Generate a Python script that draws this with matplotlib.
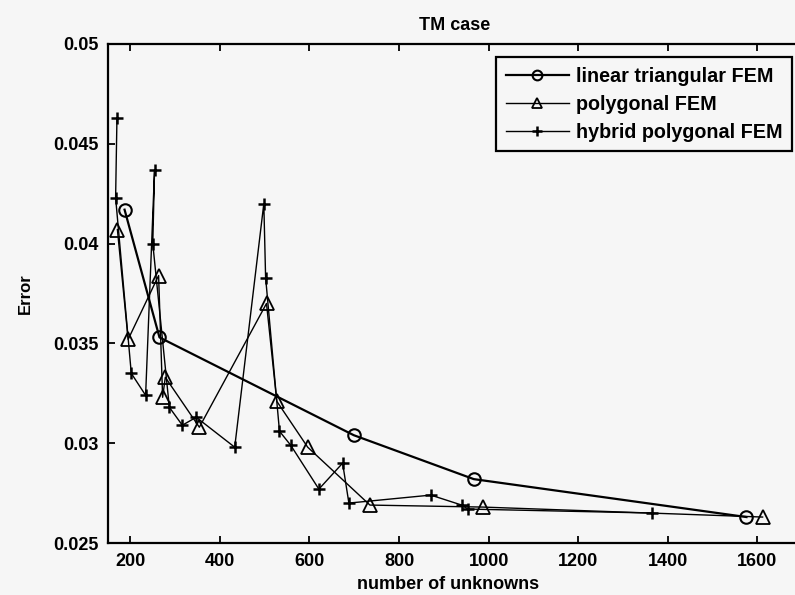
import matplotlib
matplotlib.use("Agg")
import matplotlib.pyplot as plt
import numpy as np

plt.rcParams['font.family'] = ['Liberation Sans', 'DejaVu Sans']
plt.rcParams['font.weight'] = 'bold'

# error vs. number of unknowns for the three discretisations
linear_n = [187, 265, 699, 967, 1576]
linear_err = [0.0417, 0.0353, 0.0304, 0.0282, 0.0263]

poly_n = [171, 195, 263, 272, 278, 354, 504, 527, 596, 735, 987, 1612]
poly_err = [0.0407, 0.0352, 0.0384, 0.0323, 0.0333, 0.0308, 0.0370,
            0.0321, 0.0298, 0.0269, 0.0268, 0.0263]

hybrid_n = [170, 167, 202, 234, 254, 250, 287, 316, 347, 433, 498, 502,
            533, 558, 621, 674, 688, 871, 940, 954, 1366]
hybrid_err = [0.0463, 0.0423, 0.0335, 0.0324, 0.0437, 0.0400, 0.0318,
              0.0309, 0.0313, 0.0298, 0.0420, 0.0383, 0.0306, 0.0299,
              0.0277, 0.0290, 0.0270, 0.0274, 0.0269, 0.0267, 0.0265]

xticks = [200, 400, 600, 800, 1000, 1200, 1400, 1600]
yticks = [0.025, 0.03, 0.035, 0.04, 0.045, 0.05]
ytick_labels = ['0.025', '0.03', '0.035', '0.04', '0.045', '0.05']

bg = '#f6f6f6'
fig = plt.figure(figsize=(7.95, 5.95), dpi=100, facecolor=bg)
ax = fig.add_axes([108 / 795, 52 / 595, 694 / 795, 499 / 595], facecolor=bg)

ax.plot(linear_n, linear_err, '-o', color='black', linewidth=1.6,
        markersize=9, markerfacecolor='none', markeredgewidth=1.5,
        label='linear triangular FEM')
ax.plot(poly_n, poly_err, '-^', color='black', linewidth=1.0,
        markersize=10, markerfacecolor='none', markeredgewidth=1.3,
        label='polygonal FEM')
ax.plot(hybrid_n, hybrid_err, '-+', color='black',
        linewidth=1.0, markersize=8, markeredgewidth=1.8,
        label='hybrid polygonal FEM')

ax.set_xlim(150, 1700)
ax.set_ylim(0.025, 0.05)
ax.set_xticks(xticks)
ax.set_xticklabels([str(t) for t in xticks])
ax.set_yticks(yticks)
ax.set_yticklabels(ytick_labels)
ax.tick_params(direction='in', top=True, right=True, length=5, width=1.3,
               labelsize=13, pad=7)

for s in ax.spines.values():
    s.set_linewidth(1.6)

ax.set_title('TM case', fontsize=13, fontweight='bold', pad=10)
ax.set_xlabel('number of unknowns', fontsize=13, fontweight='bold')
ax.xaxis.set_label_coords(0.49, -0.066)
ax.set_ylabel('Error', fontsize=12, fontweight='bold')
ax.yaxis.set_label_coords(-0.108, 0.5)

leg = ax.legend(loc='upper left', bbox_to_anchor=(0.559, 0.974),
                borderaxespad=0, numpoints=1, fontsize=14.2,
                handlelength=3.2, handletextpad=0.35, labelspacing=0.45,
                borderpad=0.5, fancybox=False, framealpha=1,
                facecolor=bg, edgecolor='black')
leg.get_frame().set_linewidth(1.6)
for h in leg.legend_handles:
    h.set_markersize(7)

fig.savefig('out.png', dpi=100, facecolor=bg)
